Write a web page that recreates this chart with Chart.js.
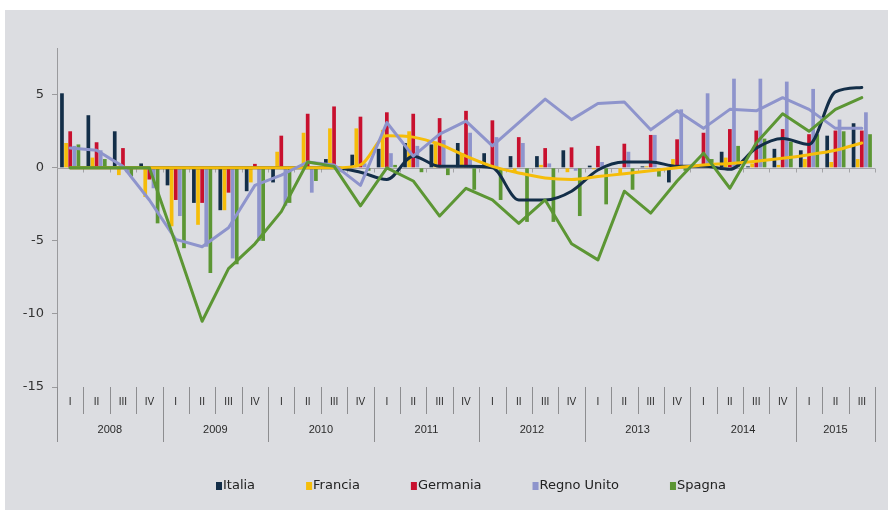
<!DOCTYPE html>
<html><head><meta charset="utf-8">
<script src="https://cdn.jsdelivr.net/npm/chart.js@4.4.0/dist/chart.umd.min.js"></script>
<style>html,body{margin:0;padding:0;background:#fff;}canvas{display:block;}</style>
</head><body>
<canvas id="c" width="888" height="515"></canvas>
<script>
// ---- data ----
const years = ['2008','2009','2010','2011','2012','2013','2014','2015'];
const quarterLabels = ['I','II','III','IV','I','II','III','IV','I','II','III','IV','I','II','III','IV',
  'I','II','III','IV','I','II','III','IV','I','II','III','IV','I','II','III'];
const seriesNames = ['Italia','Francia','Germania','Regno Unito','Spagna'];
const yTicks = [5, 0, -5, -10, -15];

const italiaBars = [5.1,3.6,2.5,0.3,-1.2,-2.4,-2.9,-1.6,-1.0,0.1,0.6,0.9,1.3,1.7,1.6,1.7,1.0,0.8,0.8,1.2,0.15,0.0,0.1,-1.0,0.0,1.1,0.1,1.3,1.2,2.2,3.05];
const franciaBars = [1.7,0.7,-0.5,-2.0,-4.0,-3.9,-2.9,-1.0,1.1,2.4,2.7,2.7,2.6,2.5,1.8,1.0,0.1,-0.3,0.2,-0.3,-0.1,-0.4,0.1,0.6,0.1,0.7,0.3,0.2,0.6,0.4,0.6];
const germaniaBars = [2.5,1.75,1.35,-0.8,-2.2,-2.4,-1.7,0.27,2.2,3.7,4.2,3.5,3.8,3.7,3.4,3.9,3.25,2.1,1.35,1.4,1.5,1.65,2.25,1.95,2.4,2.65,2.55,2.65,2.3,2.55,2.55];
const regnoUnitoBars = [1.5,1.2,-0.3,-1.4,-3.3,-5.4,-6.2,-5.0,-2.6,-1.7,-0.3,0.3,1.0,1.5,1.9,2.4,2.1,1.7,0.3,-0.2,0.4,1.1,2.25,4.0,5.1,6.1,6.1,5.9,5.4,3.3,3.8];
const spagnaBars = [1.6,0.6,-0.6,-3.8,-5.5,-7.2,-6.6,-5.0,-2.4,-0.9,-0.3,-0.2,0.2,-0.3,-0.5,-1.5,-2.2,-3.7,-3.7,-3.3,-2.5,-1.5,-0.6,-0.2,0.6,1.5,2.0,1.8,2.3,2.5,2.3];

const italiaLine = [0,0,0,0,0,0,0,0,0,0,0.0,-0.3,-0.8,0.8,0.1,0.1,0.0,-2.2,-2.2,-1.6,-0.15,0.4,0.4,0.1,0.1,-0.1,1.35,2.0,1.6,5.2,5.5];
const franciaLine = [0,0,0,0,0,0,0,0,0,0,0,0.2,2.2,2.1,1.6,0.8,0.1,-0.35,-0.7,-0.8,-0.6,-0.4,-0.2,0.0,0.2,0.3,0.45,0.65,0.9,1.2,1.7];
const regnoUnitoLine = [1.35,1.2,0.1,-2.2,-4.9,-5.4,-4.1,-1.2,-0.5,0.4,0.2,-1.2,3.1,0.8,2.3,3.2,1.5,3.1,4.7,3.3,4.4,4.5,2.6,3.9,2.7,4.0,3.9,4.8,4.0,2.7,2.7];
const spagnaLine = [0,0,0,0,-5.2,-10.5,-6.9,-5.2,-3.0,0.4,0.1,-2.6,0.0,-0.9,-3.3,-1.4,-2.2,-3.8,-2.2,-5.2,-6.3,-1.6,-3.1,-0.9,1.0,-1.4,1.7,3.7,2.5,4.0,4.8];

// ---- styles ----
const colors = ['#132e48','#f5bd0a','#c8102e','#8e94cc','#5c9634'];
const barSets = [italiaBars, franciaBars, germaniaBars, regnoUnitoBars, spagnaBars];
const lineSets = [italiaLine, franciaLine, null, regnoUnitoLine, spagnaLine];
const lineOrder = [4,3,0,2,1];

const datasets = [];
barSets.forEach((d,i)=>{
  datasets.push({type:'bar', label:seriesNames[i], data:d, backgroundColor:colors[i],
    borderWidth:0, categoryPercentage:0.78, barPercentage:0.9, order:10});
});
lineSets.forEach((d,i)=>{
  if(!d) return;
  const smooth = (i===0 || i===1);
  datasets.push({type:'line', label:seriesNames[i]+' line', data:d, borderColor:colors[i],
    backgroundColor:colors[i], borderWidth:3, pointRadius:0, fill:false,
    tension: smooth?0.4:0, cubicInterpolationMode: smooth?'monotone':'default',
    order:lineOrder[i], borderCapStyle:'round', borderJoinStyle:'round'});
});

const decor = {
  id:'decor',
  beforeDraw(chart){
    const ctx = chart.ctx;
    ctx.save();
    ctx.fillStyle = '#ffffff'; ctx.fillRect(0,0,chart.width,chart.height);
    ctx.fillStyle = '#dcdde1'; ctx.fillRect(5,10,chart.width-5,500);
    ctx.restore();
  },
  beforeDatasetsDraw(chart){
    const ctx = chart.ctx, xs = chart.scales.x, ys = chart.scales.y;
    const y0 = Math.round(ys.getPixelForValue(0)) + 0.5;
    const w = (xs.right - xs.left) / quarterLabels.length;
    ctx.save();
    ctx.strokeStyle = '#a3a3a6'; ctx.lineWidth = 1;
    ctx.beginPath(); ctx.moveTo(xs.left, y0); ctx.lineTo(xs.right, y0);
    for(let k=1;k<=quarterLabels.length;k++){
      const x = Math.round(xs.left + k*w) + 0.5;
      ctx.moveTo(x, y0); ctx.lineTo(x, y0+4);
    }
    ctx.stroke();
    ctx.restore();
  },
  afterDraw(chart){
    const ctx = chart.ctx, xs = chart.scales.x;
    const n = quarterLabels.length;
    const w = (xs.right - xs.left) / n;
    const top = xs.top;
    ctx.save();
    ctx.strokeStyle = '#8d8d90'; ctx.lineWidth = 1;
    ctx.beginPath();
    for(let k=0;k<=n;k++){
      const x = Math.round(xs.left + k*w) + 0.5;
      const isYear = (k%4===0) || k===n;
      ctx.moveTo(x, top); ctx.lineTo(x, isYear ? top+55 : top+27);
    }
    ctx.stroke();
    ctx.fillStyle = '#2a2a2a';
    ctx.textAlign = 'center'; ctx.textBaseline = 'middle';
    ctx.font = '10px "Liberation Sans", Arial, sans-serif';
    quarterLabels.forEach((lab,i)=>{
      ctx.fillText(lab, xs.getPixelForValue(i), top+15);
    });
    ctx.font = '11px "Liberation Sans", Arial, sans-serif';
    years.forEach((yr,k)=>{
      const s = k*4, e = Math.min(k*4+4, n);
      ctx.fillText(yr, xs.left + w*(s+e)/2, top+43);
    });
    // legend
    ctx.font = '13px "DejaVu Sans", sans-serif';
    ctx.textAlign = 'left';
    let x = 216; const cy = 486;
    seriesNames.forEach((nm,i)=>{
      ctx.fillStyle = colors[i];
      ctx.fillRect(x, cy-4, 6, 8);
      ctx.fillStyle = '#222';
      ctx.fillText(nm, x+7, cy);
      x += 7 + ctx.measureText(nm).width + 51;
    });
    ctx.restore();
  }
};

new Chart(document.getElementById('c'), {
  data:{ labels: quarterLabels, datasets },
  options:{
    responsive:false, animation:false,
    layout:{ padding:{ left:0, right:13, top:48, bottom:0 } },
    plugins:{ legend:{display:false}, tooltip:{enabled:false}, title:{display:false} },
    scales:{
      x:{ type:'category', offset:true, grid:{display:false}, border:{display:false},
          ticks:{display:false}, afterFit(s){ s.height = 128; } },
      y:{ min:-15, max:8.2,
          afterBuildTicks(s){ s.ticks = yTicks.map(v=>({value:v})); },
          ticks:{ font:{family:'DejaVu Sans', size:13}, color:'#333', padding:8 },
          grid:{ drawOnChartArea:false, drawTicks:true, tickLength:5, color:'#9a9a9d' },
          border:{ color:'#9a9a9d', width:1 },
          afterFit(s){ s.width = 57; } }
    }
  },
  plugins:[decor]
});
</script>
</body></html>
